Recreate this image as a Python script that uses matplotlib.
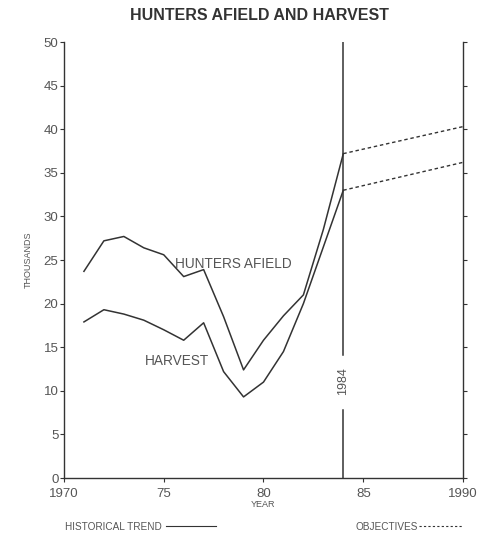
import matplotlib
matplotlib.use("Agg")
import matplotlib.pyplot as plt

years = [1971, 1972, 1973, 1974, 1975, 1976, 1977, 1978, 1979, 1980, 1981, 1982, 1983, 1984]
hunters = [23.7, 27.2, 27.7, 26.4, 25.6, 23.1, 23.9, 18.5, 12.4, 15.8, 18.6, 21.0, 28.5, 37.2]
harvest = [17.9, 19.3, 18.8, 18.1, 17.0, 15.8, 17.8, 12.2, 9.3, 11.0, 14.5, 20.0, 26.5, 33.0]
obj_years = [1984, 1990]
obj_hunters = [37.2, 40.3]
obj_harvest = [33.0, 36.2]
xticks = [1970, 1975, 1980, 1985, 1990]
xticklabels = ["1970", "75", "80", "85", "1990"]
yticks = [0, 5, 10, 15, 20, 25, 30, 35, 40, 45, 50]

plt.rcParams['font.family'] = ['Liberation Sans', 'DejaVu Sans']
txt = '#555555'
ln = '#333333'

fig = plt.figure(figsize=(4.8, 5.36), dpi=100)
ax = fig.add_axes([0.1333, 0.1082, 0.8313, 0.8134])

ax.plot(years, hunters, color=ln, lw=1.1)
ax.plot(years, harvest, color=ln, lw=1.1)
ax.plot(obj_years, obj_hunters, color=ln, lw=1.0, ls=(0, (2.5, 2)))
ax.plot(obj_years, obj_harvest, color=ln, lw=1.0, ls=(0, (2.5, 2)))

# 1984 marker line with gap for label
ax.plot([1984, 1984], [0, 7.8], color=ln, lw=1.1)
ax.plot([1984, 1984], [14.1, 50], color=ln, lw=1.1)
ax.text(1984, 11.1, "1984", rotation=90, ha='center', va='center', fontsize=9, color=txt)

ax.text(1975.55, 24.5, "HUNTERS AFIELD", fontsize=9.8, color=txt, ha='left', va='center')
ax.text(1974.05, 13.4, "HARVEST", fontsize=9.8, color=txt, ha='left', va='center')

ax.set_xlim(1970, 1990)
ax.set_ylim(0, 50)
ax.set_xticks(xticks)
ax.set_xticklabels(xticklabels)
ax.set_yticks(yticks)
ax.spines['top'].set_visible(False)
for s in ['left', 'right', 'bottom']:
    ax.spines[s].set_color(ln)
    ax.spines[s].set_linewidth(1.0)
ax.tick_params(axis='both', labelsize=9.5, labelcolor=txt, color=ln, length=3, width=0.8)
ax.tick_params(axis='y', right=True, direction='out', pad=1)
ax.tick_params(axis='x', pad=4)

ax.set_ylabel("THOUSANDS", fontsize=6.5, color=txt, labelpad=8)
ax.set_xlabel("YEAR", fontsize=6.5, color=txt, labelpad=0)

fig.text(0.54, 0.972, "HUNTERS AFIELD AND HARVEST", ha='center', va='center',
         fontsize=11.5, fontweight='bold', color='#333333')

# legend
fig.text(0.135, 0.017, "HISTORICAL TREND", fontsize=7.2, color=txt, ha='left', va='center')
fig.add_artist(plt.Line2D([0.345, 0.45], [0.018, 0.018], color=ln, lw=0.8, transform=fig.transFigure))
fig.text(0.74, 0.017, "OBJECTIVES", fontsize=7.2, color=txt, ha='left', va='center')
fig.add_artist(plt.Line2D([0.872, 0.962], [0.018, 0.018], color=ln, lw=0.8, ls=(0, (2, 2)), transform=fig.transFigure))

fig.savefig("out.png", dpi=100, facecolor='white')
